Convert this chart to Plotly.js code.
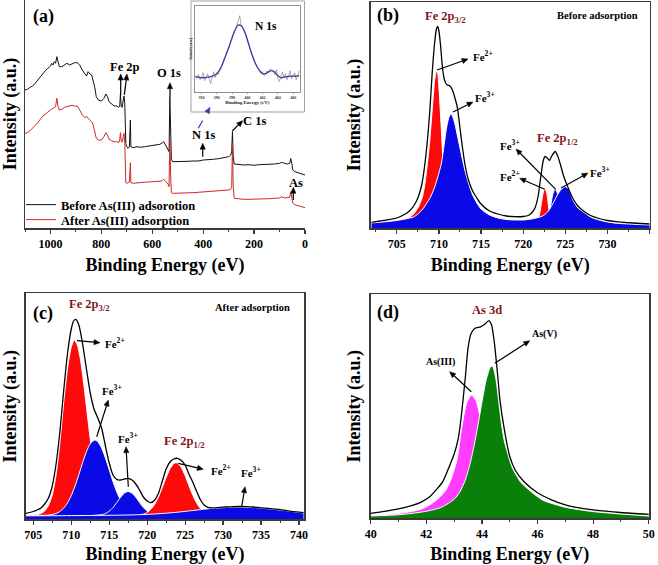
<!DOCTYPE html>
<html><head><meta charset="utf-8">
<script src="https://cdn.plot.ly/plotly-3.0.1.min.js"></script>
<style>html,body{margin:0;padding:0;background:#fff}#chart{width:658px;height:565px}</style>
</head><body><div id="chart"></div>
<script>
// ---------- (a) survey spectra ----------
const surveyBE = [1100,1090,1080,1070,1060,1050,1040,1030,1020,1010,
 1000,995,990,985,980,975,970,965,955,945,
 935,925,915,905,895,885,875,865,858,852,
 845,838,832,826,820,812,800,790,782,776,
 770,760,750,740,732,728,725,722,718,714,
 711,708,706,704,700,695,690,686,684,675,
 660,645,630,615,600,585,570,560,555,550,
 545,538,534,531,528,525,520,500,480,460,
 440,420,400,380,360,340,320,300,292,288,
 285,282,278,260,240,220,200,180,160,140,
 120,100,92,80,70,60,56,52,48,40,
 30,20,10,0];
const surveyBefore = [138,138.7,140.7,142,144.7,148,150.7,154,157.3,159.7,
 162,164.7,163,166.3,164.7,171.3,164.7,161.3,161.3,162.7,
 164.7,163,164,165.3,165.3,163,158,154.7,152,156.3,
 154,153,148,140.7,131.3,128,127,129.7,134,131.3,
 126.3,124,122,122,120.7,122,134,121.3,120.7,128,
 132,124.7,101.3,84.7,81.3,79.7,81,108,81.3,80.3,
 81.3,80.7,81.3,82,82.3,82.7,83.7,85.3,86.3,84,
 81.3,78.7,76.3,131.3,88,68.7,66.3,66.3,66,66.7,
 67,67,68,68,68.7,69.3,70,71.3,73,76.3,
 96.3,71.3,64,63.3,63,63.3,62.7,63.3,63.3,63.7,
 64,64.7,65.7,64.7,64,64.7,69.5,64.7,58,56.3,
 55.3,54.7,54,53];
const surveyAfter = [94.7,95.3,97.3,99.7,102,105.3,108.7,112,114,116.3,
 118,119,119.7,120.5,121.3,129.7,121.3,118,118.7,120.7,
 121.3,122,122.7,122,122,118,113,110.7,111.3,109.7,
 108,106.3,103,96.3,89.7,88,88,91.3,95.3,93,
 88.7,87.3,86.3,86.3,85.3,88,95.3,86.3,86,91.3,
 94.7,84.7,54.7,45.3,44.7,45.3,46,65.3,45.3,44.7,
 45.3,45.5,45.8,46,46.2,46.3,46.8,47.5,48.7,47.5,
 46.3,44,41.3,88,54.7,35.3,34.7,34.7,34.7,35,
 35.3,35.7,36,36.3,36.7,37,37.3,38,38.7,41.3,
 84.7,41.3,29.7,29,28.7,28.7,28.7,28.8,29,29.3,
 29.7,30,31.3,30,30.3,30.7,36.3,30,25,23.3,
 22.7,22,21.3,20.3];
const surveyNames = ["Before As(III) adsorotion","After As(III) adsorption"];

// ---------- (a) inset N 1s ----------
const insetRawBE = [393.2,393.4,393.6,393.8,394.0,394.2,394.4,394.6,394.8,395.0,
 395.2,395.4,395.6,395.8,396.0,396.2,396.4,396.6,396.8,397.0,
 397.2,397.4,397.6,397.8,398.0,398.2,398.4,398.6,398.8,399.0,
 399.2,399.4,399.6,399.8,400.0,400.2,400.4,400.6,400.8,401.0,
 401.2,401.4,401.6,401.8,402.0,402.2,402.4,402.6,402.8,403.0,
 403.2,403.4,403.6,403.8,404.0,404.2,404.4,404.6,404.8,405.0,
 405.2,405.4,405.6,405.8,406.0,406.2,406.4,406.6,406.8];
const insetRaw = [16,13,17,12,15,19,11,14,18,13,
 8,15,20,14,19,17,23,25,28,33,
 36,41,44,50,53,58,61,66,70,76,
 65,64,60,57,52,46,43,37,34,29,
 27,23,22,19,20,16,18,21,19,23,
 21,20,17,22,13,10,15,20,14,18,
 12,17,21,13,16,19,12,17,21];
const insetFitBE = [393.2,393.6,394.0,394.4,394.8,395.2,395.6,396.0,396.4,396.8,
 397.2,397.6,398.0,398.4,398.8,399.2,399.6,400.0,400.4,400.8,
 401.2,401.6,402.0,402.4,402.8,403.2,403.6,404.0,404.4,404.8,
 405.2,405.6,406.0,406.4,406.8];
const insetFit = [15,14.5,14,14,14.5,15,16,18,22,29,
 37,45,54,62,66.5,66,61,52,42,33,
 26,21,18,18,20,21,19.5,16,14,14.5,
 15,15.5,15.5,15.5,16];

// ---------- (b) Fe 2p before adsorption ----------
const bEnvBE = [702,703,704,705,706,706.5,707,707.5,708,708.3,708.6,708.9,709.2,709.5,709.7,709.85,710,710.2,710.4,710.6,710.8,711,711.3,711.6,711.9,712.2,712.5,712.8,713.1,713.5,714,714.5,715,716,717,718,719,720,720.6,721,721.4,721.8,722.1,722.4,722.6,722.85,723.1,723.4,723.8,724.1,724.4,724.8,725.2,725.6,726,726.5,727,728,729,730,731,733,735];
const bEnv = [5.7,7,8.3,10,14,17,22,30,45,62,85,115,155,186,199,201.5,197,182,162,150,145,143,142,138,130,120,100,80,63,48,37,30,24,17,14,12,11.3,11.5,12.5,15,20,33,52,68,71.5,70,67.5,72,76.5,72,64,52,43,35,28,22,18,12.5,9.5,7.5,6.3,5,4];
const bFe2aBE = [704,705,706,706.5,707,707.5,708,708.3,708.6,708.9,709.2,709.5,709.7,709.85,710,710.2,710.4,710.6,710.8,711,711.5,712.5,714,716];
const bFe2a = [3.5,4.5,8,10.5,14,20,30,42,62,86,118,148,157,155,140,112,80,52,32,20,10,6,4,3];
const bFe3aBE = [702,703,704,705,706,707,707.5,708,708.5,709,709.5,710,710.3,710.6,710.9,711.2,711.4,711.6,711.9,712.2,712.5,712.8,713.1,713.5,714,714.5,715,716,717,718,719,720,721,722,723,724,726,728,730,732,735];
const bFe3a = [5,5.8,6.5,7.5,9,11,14,18,24,31,41,55,65,82,100,111,114,112,104,92,80,68,57,45,33,25,19,13,10,8.5,8,8,8,8,7.5,7,6,5,4.5,4,3.5];
const bFe2bBE = [721.6,721.8,722,722.2,722.4,722.6,722.8,723,723.2,723.5];
const bFe2b = [8,10,16,27,36,40,35,22,12,8];
const bFe3bBE = [722.6,722.9,723.2,723.4,723.6,723.8,724,724.3,724.6,725];
const bFe3b = [9,11,19,29,36,39,36,28,15,9];
const bFe3cBE = [720,721,722,722.5,723,723.5,724,724.5,725,725.4,725.9,726.5,727.1,728,728.7,730,731.1,733,735];
const bFe3c = [8,9,11,13,17,24,32,38.5,41.3,39,28,20,16.3,11,8.7,6,4.7,3.8,3];

// ---------- (c) Fe 2p after adsorption ----------
const cEnvBE = [704,705,705.5,706,706.5,707,707.5,708,708.5,709,709.5,710,710.3,710.6,711,711.5,712,712.5,713,713.5,714,714.5,715,715.5,716,716.5,717,717.5,718,718.5,719,719.5,720,720.5,721,721.5,722,722.5,723,723.5,724,724.5,725,725.5,726,726.5,727,727.5,728,729,730,731,732,733,734,735,736,737,738,739,740,740.6];
const cEnv = [5.7,7.5,9,11,15,21,33,55,87,128,165,190,198,199.7,194,175,150,126,110,101,91,73,56,44,39.5,39,40,40.7,39,35,29,22,18,16.3,19,26,38,50,57,60,60.7,58.5,54,45,37,28,19.5,14,11.7,11.2,11.8,12.2,12.5,12.4,12,11.2,10.6,9.8,8.8,7.6,6.8,6.4];
const cFe2aBE = [704,705,706,706.5,707,707.5,708,708.5,709,709.5,710,710.4,710.8,711.2,711.6,712,712.5,713,713.5,714,714.5,715,716,717];
const cFe2a = [3.5,3.8,5.5,8,13.5,24,44,76,116,150,172,179,174,160,138,112,80,52,31,17,9,5.5,3.8,3.5];
const cFe3aBE = [704,706,707,708,708.5,709,709.5,710,710.5,711,711.5,712,712.5,713.1,713.5,714,714.5,715,715.5,716,716.5,717,717.5,718,719,720,721];
const cFe3a = [3.5,3.6,3.9,5.5,7.5,10.8,16,23.4,33,44.4,56.4,67.3,75.3,79,77.3,71,61,49.3,37.4,27,18.7,12.6,8.6,6.2,4.1,3.6,3.5];
const cFe3bBE = [713,714,714.5,715,715.5,716,716.5,717,717.5,718,718.5,719,719.5,720,720.5,721,722];
const cFe3b = [3.6,4.3,5.5,7.8,11.5,16.5,21.7,25.9,27.5,25.9,21.7,16.5,11.5,7.8,5.5,4.3,3.6];
const cFe2bBE = [719,719.5,720,720.5,721,721.5,722,722.5,723,723.5,723.8,724,724.5,725,725.5,726,726.5,727,727.5,728,729];
const cFe2b = [4.1,4.9,6.6,9.8,14.9,22.3,31.5,41.5,50.1,55.4,56.3,55.9,51.5,43.4,33.5,24,16.2,10.6,7.1,5.2,3.8];
const cFe3cBE = [704,708,712,716,718,720,722,724,726,728,730,732,734,736,738,740,740.6];
const cFe3c = [3.2,3.3,3.5,3.8,4.1,4.6,5.5,6.8,8.5,10.2,11.3,11.9,11.5,10.2,8.5,6.5,6];

// ---------- (d) As 3d ----------
const dEnvBE = [40,40.5,41,41.5,41.8,42.1,42.4,42.6,42.8,43,43.15,43.25,43.4,43.5,43.6,43.75,43.95,44.1,44.25,44.35,44.45,44.55,44.65,44.8,45,45.2,45.5,46,46.5,47,47.5,48,49,50];
const dEnv = [5,7,9.5,13,16,21,30,37,50,64,80,100,140,170,184,190,191.5,194,197.7,193,175,148,118,90,62,48,37,25.5,18.5,13.5,10.5,8.5,5.8,4];
const dAs3BE = [40,40.5,41,41.5,41.8,42.1,42.4,42.7,42.9,43.1,43.27,43.45,43.62,43.78,43.95,44.1,44.3,44.5,44.8,45.2,45.8,46.5,47.5,48.5,50];
const dAs3 = [2.5,3.5,4.8,7,9,13,19,28,40,58,90,115,123.3,118,100,80,56,40,25,15,9,6,4,3,2.3];
const dAs5BE = [40,41,41.5,42,42.5,42.8,43,43.2,43.4,43.55,43.7,43.85,44,44.15,44.3,44.38,44.5,44.6,44.7,44.8,45,45.1,45.4,45.75,46.2,47,48,49,50];
const dAs5 = [2.3,3.5,5,7,10.5,15,19,26,38,52,70,92,116,138,151,152.3,140,118,95,78,58,50,36,27,18,11,6.7,4.3,2.3];

// ---------- styling ----------
const F = 'Liberation Serif, "Times New Roman", serif';
const W = 658, H = 565;
const px = x => x / W, py = y => 1 - y / H;
const RED = '#ff0a0a', BLUE = '#0a0ae6', GREEN = '#0a800a', MAG = '#ff3cff', DARKRED = '#7d1a1a', FRAME = '#3a3a3a';

function fillTrace(x, y, color, xa, ya) {
  return {x, y, type:'scatter', mode:'lines', fill:'tozeroy', fillcolor:color,
    line:{color:'#ffffff', width:1, shape:'spline', smoothing:0.6}, xaxis:xa, yaxis:ya, showlegend:false, hoverinfo:'skip'};
}
function envTrace(x, y, xa, ya) {
  return {x, y, type:'scatter', mode:'lines', line:{color:'#000', width:1.3, shape:'spline', smoothing:0.6},
    xaxis:xa, yaxis:ya, showlegend:false, hoverinfo:'skip'};
}

const data = [
  {x:surveyBE, y:surveyBefore, type:'scatter', mode:'lines', name:surveyNames[0], line:{color:'#111', width:1}, xaxis:'x', yaxis:'y', legend:'legend'},
  {x:surveyBE, y:surveyAfter, type:'scatter', mode:'lines', name:surveyNames[1], line:{color:'#d02828', width:1}, xaxis:'x', yaxis:'y', legend:'legend2'},
  {x:insetRawBE, y:insetRaw, type:'scatter', mode:'lines', line:{color:'#8a8a8a', width:0.7}, xaxis:'x5', yaxis:'y5', showlegend:false},
  {x:insetFitBE, y:insetFit, type:'scatter', mode:'lines', line:{color:'#3c3ca8', width:1.3, shape:'spline'}, xaxis:'x5', yaxis:'y5', showlegend:false},
  fillTrace(bFe2aBE, bFe2a, RED, 'x2', 'y2'),
  fillTrace(bFe3aBE, bFe3a, BLUE, 'x2', 'y2'),
  fillTrace(bFe2bBE, bFe2b, RED, 'x2', 'y2'),
  fillTrace(bFe3bBE, bFe3b, BLUE, 'x2', 'y2'),
  fillTrace(bFe3cBE, bFe3c, BLUE, 'x2', 'y2'),
  envTrace(bEnvBE, bEnv, 'x2', 'y2'),
  fillTrace(cFe2aBE, cFe2a, RED, 'x3', 'y3'),
  fillTrace(cFe3aBE, cFe3a, BLUE, 'x3', 'y3'),
  fillTrace(cFe3bBE, cFe3b, BLUE, 'x3', 'y3'),
  fillTrace(cFe2bBE, cFe2b, RED, 'x3', 'y3'),
  fillTrace(cFe3cBE, cFe3c, BLUE, 'x3', 'y3'),
  envTrace(cEnvBE, cEnv, 'x3', 'y3'),
  fillTrace(dAs3BE, dAs3, MAG, 'x4', 'y4'),
  fillTrace(dAs5BE, dAs5, GREEN, 'x4', 'y4'),
  envTrace(dEnvBE, dEnv, 'x4', 'y4')
];

const tickfont = {family:F, size:12, color:'#000', weight:'bold'};
const titleFont = {family:F, size:18, color:'#000', weight:'bold'};
function xAxis(domain, range, anchor, dtick, tick0, minorD, mirror) {
  return {domain, range, anchor, dtick, tick0, ticks:'outside', ticklen:4, tickwidth:1.2, tickcolor:FRAME,
    minor:{dtick:minorD, ticks:'outside', ticklen:2.5, tickwidth:1, tickcolor:FRAME, showgrid:false},
    showline:true, linewidth:1.5, linecolor:FRAME, mirror, showgrid:false, zeroline:false, automargin:false,
    tickfont, title:{text:'Binding Energy (eV)', font:titleFont, standoff:8}};
}
function yAxis(domain, range, anchor, mirror) {
  return {domain, range, anchor, showline:true, linewidth:1.5, linecolor:FRAME, mirror, showticklabels:false,
    ticks:'', showgrid:false, zeroline:false, automargin:false,
    title:{text:'Intensity (a.u.)', font:titleFont, standoff:4}};
}
const legendFont = {family:F, size:12.5, color:'#000', weight:'bold'};

const layout = {
  width:W, height:H, margin:{l:0, r:0, t:0, b:0},
  paper_bgcolor:'#fff', plot_bgcolor:'#fff',
  font:{family:F, size:12, color:'#000', weight:'bold'},
  xaxis: xAxis([px(25), px(305)], [1100, 0], 'y', 200, 0, 100, false),
  yaxis: yAxis([py(228), 1], [0, 228], 'x', false),
  xaxis2: xAxis([px(370.7), px(649.7)], [701.9, 735.02], 'y2', 5, 705, 2.5, true),
  yaxis2: yAxis([py(228), py(2)], [0, 226], 'x2', true),
  xaxis3: xAxis([px(25.7), px(304.3)], [704, 740.7], 'y3', 5, 705, 2.5, true),
  yaxis3: yAxis([py(519), py(293.3)], [0, 225.7], 'x3', true),
  xaxis4: xAxis([px(370.7), px(649)], [40, 50.01], 'y4', 2, 40, 1, true),
  yaxis4: yAxis([py(518.3), py(294)], [0, 224.3], 'x4', true),
  xaxis5: {domain:[px(194.7), px(300)], range:[393.1, 406.9], anchor:'y5', dtick:2, tick0:394,
    ticks:'outside', ticklen:1.5, tickwidth:0.6, tickcolor:'#666', showline:true, linewidth:0.8, linecolor:'#777', mirror:true,
    showgrid:false, zeroline:false, automargin:false, tickfont:{family:F, size:4, color:'#333', weight:'bold'},
    title:{text:'Binding Energy (eV)', font:{family:F, size:5, color:'#222', weight:'bold'}, standoff:1}},
  yaxis5: {domain:[py(91.7), py(6)], range:[0, 85.7], anchor:'x5', showline:true, linewidth:0.8, linecolor:'#777', mirror:true,
    showticklabels:false, ticks:'', showgrid:false, zeroline:false, automargin:false,
    title:{text:'Intensity (a.u.)', font:{family:F, size:3.5, color:'#222', weight:'bold'}, standoff:1}},
  showlegend:true,
  legend:{x:px(21), y:py(190), xanchor:'left', yanchor:'top', bgcolor:'rgba(0,0,0,0)', font:legendFont, itemwidth:30},
  legend2:{x:px(21), y:py(205), xanchor:'left', yanchor:'top', bgcolor:'rgba(0,0,0,0)', font:legendFont, itemwidth:30},
  shapes:[
    {type:'rect', xref:'paper', yref:'paper', x0:px(191), x1:px(304.5), y0:py(112), y1:py(1), line:{color:'#a0a0a0', width:1}}
  ],
  annotations:[]
};

function T(text, x, y, size, color) {
  layout.annotations.push({text, xref:'paper', yref:'paper', x:px(x), y:py(y), showarrow:false,
    xanchor:'center', yanchor:'middle', font:{family:F, size, color:color||'#000', weight:'bold'}});
}
// arrow drawn as a line plus a filled triangular head (pixel positions -> paper)
function A(x0, y0, x1, y1, color, dash) {
  const c = color || '#000';
  const dx = x1 - x0, dy = y1 - y0, len = Math.hypot(dx, dy);
  const ux = dx / len, uy = dy / len, L = 6, w = 2.6;
  const bx = x1 - ux * L, by = y1 - uy * L;
  const nx = -uy, ny = ux;
  layout.shapes.push({type:'line', xref:'paper', yref:'paper', x0:px(x0), y0:py(y0), x1:px(bx), y1:py(by),
    line:{color:c, width:1.2, dash:dash || 'solid'}});
  const p = (x, y) => `${px(x)},${py(y)}`;
  layout.shapes.push({type:'path', xref:'paper', yref:'paper',
    path:`M ${p(x1, y1)} L ${p(bx + nx * w, by + ny * w)} L ${p(bx - nx * w, by - ny * w)} Z`,
    fillcolor:c, line:{color:c, width:0.5}});
}
// (a)
T('(a)', 43, 16, 18);
T('Fe 2p', 125, 67, 12.5); T('O 1s', 169, 73, 12.5); T('N 1s', 203, 135, 12.5);
T('C 1s', 254, 121, 12.5); T('As', 296, 183, 12.5);
T('N 1s', 266, 26, 11.5);
A(120.7, 95, 120.7, 74); A(124.3, 95, 127, 74); A(170, 96.7, 170, 82.7);
A(202.7, 156.7, 202.7, 143.3); A(232.3, 131, 242.7, 120.7); A(293.3, 200, 293.3, 187.3);
A(198.3, 128.3, 210, 107.3, '#3b3bb0', 'dash');
// (b)
T('(b)', 388, 15, 18);
T('Fe 2p<sub>3/2</sub>', 445, 17, 12.5, DARKRED);
T('Before adsorption', 597, 15, 10.5);
T('Fe<sup>2+</sup>', 483, 56, 11); T('Fe<sup>3+</sup>', 485, 97, 11);
T('Fe 2p<sub>1/2</sub>', 557, 139, 12.5, DARKRED);
T('Fe<sup>3+</sup>', 510, 145, 11); T('Fe<sup>2+</sup>', 510, 176, 11); T('Fe<sup>3+</sup>', 600, 172, 11);
A(437, 70, 468, 59); A(453, 112, 473, 102); A(555.7, 189.3, 516, 149);
A(544.7, 189.3, 519.7, 178.3); A(561, 188, 588, 173);
// (c)
T('(c)', 43, 313, 18);
T('Fe 2p<sub>3/2</sub>', 89, 305, 12.5, DARKRED);
T('After adsorption', 252, 307, 10.5);
T('Fe<sup>2+</sup>', 115, 343, 11); T('Fe<sup>3+</sup>', 112, 390, 11); T('Fe<sup>3+</sup>', 128, 438, 11);
T('Fe 2p<sub>1/2</sub>', 184, 442, 12.5, DARKRED);
T('Fe<sup>2+</sup>', 221, 470, 11); T('Fe<sup>3+</sup>', 251, 472, 11);
A(77, 340.7, 100, 342.7); A(96.7, 436.7, 108.3, 400); A(128.3, 486.7, 126, 446.7);
A(178.3, 463.3, 203.3, 469.3); A(241.7, 506.7, 245, 486.7);
// (d)
T('(d)', 388, 312, 18);
T('As 3d', 487, 310, 12.5, DARKRED);
T('As(V)', 544, 334, 10); T('As(III)', 440, 362, 10);
A(494.7, 363.3, 529.7, 340.7); A(471.3, 391.7, 449.7, 371.7);

Plotly.newPlot('chart', data, layout, {displayModeBar:false, staticPlot:true});
</script></body></html>
